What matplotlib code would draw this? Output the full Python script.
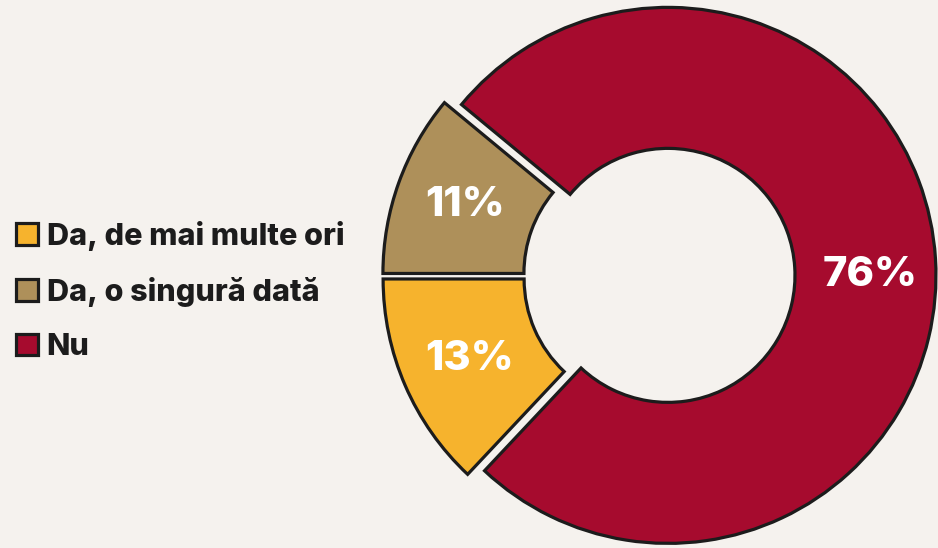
import matplotlib.pyplot as plt

# date
labels = ['Da, de mai multe ori', 'Da, o singură dată', 'Nu']
values = [13, 11, 76]
colors = ['#f6b32d', '#ae905a', '#a60b2e']
explode = [7.5, 7.5, 10]  # in pixeli, pie nu le scaleaza cu raza

bg = '#f5f2ee'
edge = '#1c1c1c'
plt.rcParams['font.family'] = ['Inter', 'DejaVu Sans']

fig = plt.figure(figsize=(9.38, 5.48), dpi=100, facecolor=bg)
ax = fig.add_axes([0, 0, 1, 1])
ax.set_facecolor(bg)

# axa in pixeli, y de jos in sus
wedges, texts, autotexts = ax.pie(
    values, colors=colors, explode=explode,
    startangle=226.8, counterclock=False,
    center=(658, 272), radius=268,
    wedgeprops=dict(width=141, edgecolor=edge, linewidth=2.3),
    autopct=lambda p: f'{round(p)}%', pctdistance=0.755,
    textprops=dict(color='white', fontsize=30, fontweight=800))

# eticheta mare pe orizontala centrului
autotexts[2].set_y(wedges[2].center[1])
for t in autotexts[:2]:
    t.set_x(t.get_position()[0] + 4)

ax.set_xlim(0, 938)
ax.set_ylim(0, 548)
ax.set_aspect('equal')
ax.axis('off')

leg = ax.legend(wedges, labels, loc='center left', bbox_to_anchor=(16, 257),
                bbox_transform=ax.transData, frameon=False,
                prop=dict(size=22, weight=800),
                handlelength=0.72, handleheight=0.72, handletextpad=0.28,
                labelspacing=0.86, borderpad=0, borderaxespad=0)
for t in leg.get_texts():
    t.set_color('#1c1c1c')

fig.savefig('out.png', dpi=100, facecolor=bg)
